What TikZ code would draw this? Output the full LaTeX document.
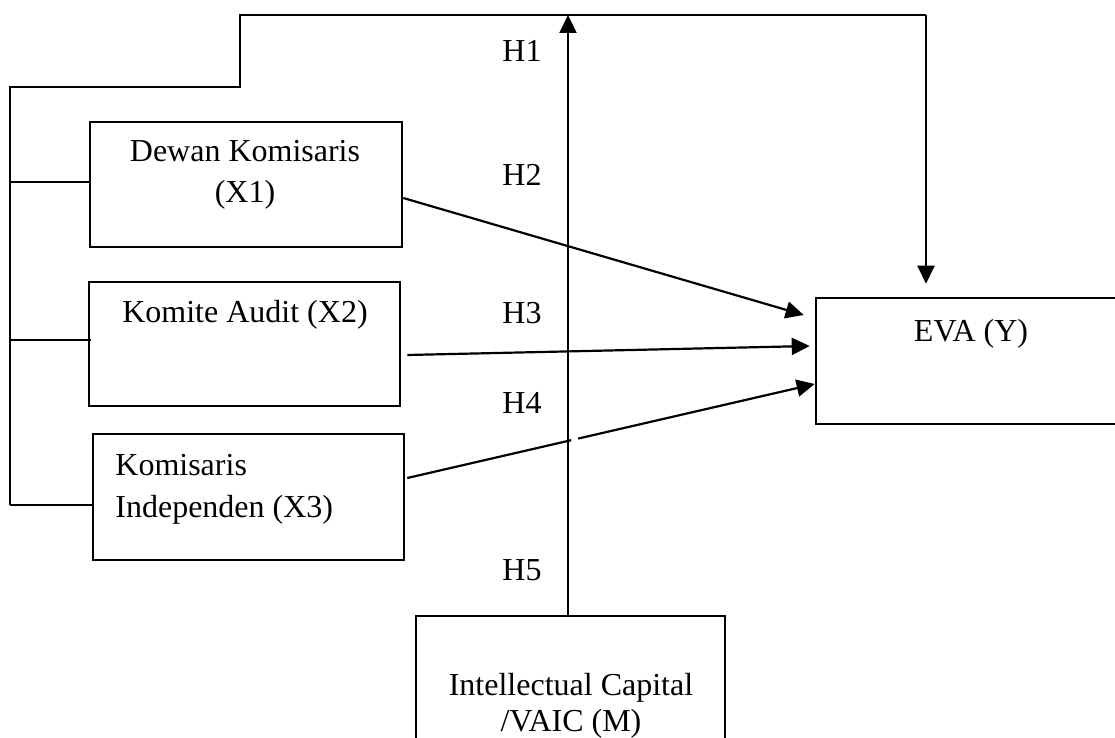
\documentclass[tikz,border=0pt]{standalone}
\usepackage{fontspec}
\setmainfont{Liberation Serif}
\usetikzlibrary{arrows.meta,calc}
\begin{document}
\begin{tikzpicture}[x=0.5pt,y=-0.5pt,
  box/.style={draw,line width=1.3pt,inner sep=0pt},
  txt/.style={font=\fontsize{16}{19}\selectfont,inner sep=0pt,anchor=base},
  hl/.style={font=\fontsize{16}{19}\selectfont,inner sep=0pt,anchor=base west},
  brk/.style={line width=0.65pt},
  arr/.style={line width=1.1pt,-{Triangle[length=9pt,width=8.5pt]}}]
\useasboundingbox (0,0) rectangle (1115,738);
% boxes
\node[box,minimum width=156pt,minimum height=62.5pt] (X1) at (246,184.5) {};
\node[box,minimum width=155.5pt,minimum height=62pt] (X2) at (244.5,344) {};
\node[box,minimum width=155.5pt,minimum height=63pt] (X3) at (248.5,497) {};
\node[box,minimum width=152pt,minimum height=63pt] (Y) at (968,361) {};
\node[box,minimum width=154.5pt,minimum height=72pt] (M) at (570.5,688) {};
% texts
\node[txt] (t1a) at (245,162) {Dewan Komisaris};
\node[txt] (t1b) at (245,203) {(X1)};
\node[txt] (t2) at (245,322) {Komite Audit (X2)};
\node[hl] (t3a) at (115,475) {Komisaris};
\node[hl] (t3b) at (115,517) {Independen (X3)};
\node[txt] (t4) at (971,342) {EVA (Y)};
\node[txt] (t5a) at (571,695) {Intellectual Capital};
\node[txt] (t5b) at (571,731) {/VAIC (M)};
% hypothesis labels
\node[hl] (h1) at (502,62) {H1};
\node[hl] (h2) at (502,185) {H2};
\node[hl] (h3) at (502,323) {H3};
\node[hl] (h4) at (502,413) {H4};
\node[hl] (h5) at (502,580) {H5};
% bracket
\coordinate (b1) at (10,182);
\coordinate (b2) at (10,340);
\coordinate (b3) at (10,505);
\coordinate (k1) at (10,87);
\coordinate (k2) at (240,87);
\coordinate (k3) at (240,15);
\coordinate (k4) at (926,15);
\coordinate (top) at (568,15);
\draw[brk] (b3) -- (k1) -- (k2) -- (k3) -- (k4);
\draw[brk] (b1) -- (b1 -| X1.west);
\draw[brk] (b2) -- ($(b2 -| X2.west)+(3,0)$);
\draw[brk] (b3) -- (b3 -| X3.west);
\draw[arr,shorten >=6.5pt] (k4) -- (k4 |- Y.north);
% moderator
\draw[arr] (M.north -| top) -- (top);
% direct effects
\draw[arr] ($(X1.east)+(0,13.5)$) -- ($(Y.west)+(-11,-46)$);
\draw[arr] ($(X2.east)+(6,11)$) -- ($(Y.west)+(-5,-15)$);
\coordinate (s3) at ($(X3.east)+(2,-19)$);
\coordinate (e3) at ($(Y.west)+(0,23)$);
\draw[line width=1.1pt] (s3) -- ($(s3)!0.4024!(e3)$);
\draw[arr] ($(s3)!0.4195!(e3)$) -- (e3);
\end{tikzpicture}
\end{document}
